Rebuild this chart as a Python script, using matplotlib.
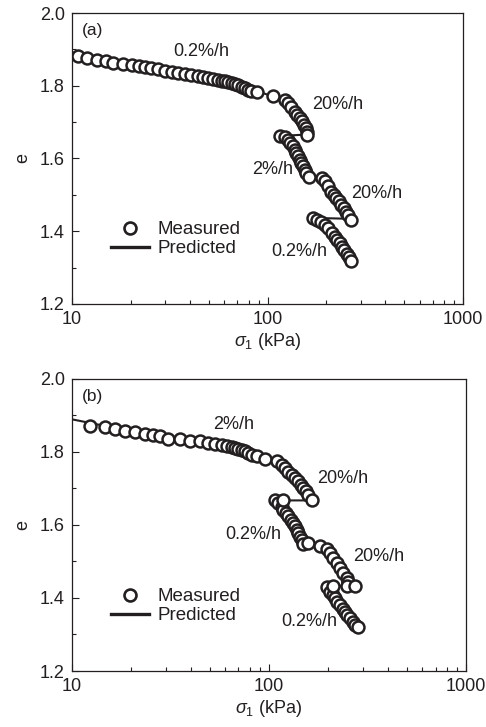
import matplotlib
matplotlib.use("Agg")
import matplotlib.pyplot as plt
from matplotlib.lines import Line2D

plt.rcParams["font.family"] = ["Liberation Sans", "DejaVu Sans"]
plt.rcParams["mathtext.fontset"] = "custom"
plt.rcParams["mathtext.rm"] = "Liberation Sans"
plt.rcParams["mathtext.it"] = "Liberation Sans:italic"

INK = "#231f20"

# ---- panel (a): measured, one list per loading stage
a_s1_x = [10.8, 12.0, 13.5, 14.9, 16.3, 18.3, 20.2, 21.9, 23.6, 25.5, 27.6, 29.8, 32.3,
          34.9, 37.7, 40.8, 44.1, 46.8, 49.8, 52.8, 56.0, 58.2, 60.6, 63.0, 65.5, 68.1,
          70.8, 73.6, 76.5, 79.6, 82.7, 87.9]
a_s1_e = [1.881, 1.876, 1.872, 1.868, 1.864, 1.860, 1.857, 1.854, 1.851, 1.848, 1.845,
          1.842, 1.839, 1.836, 1.833, 1.830, 1.827, 1.825, 1.822, 1.819, 1.816, 1.814,
          1.812, 1.810, 1.807, 1.804, 1.801, 1.797, 1.793, 1.789, 1.785, 1.784]
a_s2_x = [106.9, 122.7, 127.3, 132.4, 137.7, 142.0, 146.0, 150.2, 153.3, 156.4, 158.5, 159.8]
a_s2_e = [1.771, 1.761, 1.752, 1.743, 1.729, 1.720, 1.711, 1.702, 1.693, 1.683, 1.674, 1.665]
a_s3_x = [115.3, 122.7, 127.3, 129.9, 135.1, 137.7, 140.5, 143.3, 146.0, 148.9, 151.8,
          154.8, 157.9, 163.2]
a_s3_e = [1.661, 1.659, 1.651, 1.642, 1.633, 1.624, 1.615, 1.606, 1.596, 1.587, 1.578,
          1.569, 1.560, 1.550]
a_s4_x = [188.8, 196.5, 204.6, 211.4, 217.4, 224.8, 231.2, 237.8, 245.6, 252.6, 258.7, 266.0]
a_s4_e = [1.546, 1.537, 1.523, 1.509, 1.500, 1.491, 1.482, 1.472, 1.463, 1.454, 1.445, 1.431]
a_s5_x = [171.2, 178.1, 186.8, 196.5, 204.6, 213.0, 221.6, 227.8, 235.0, 241.6, 247.4,
          254.4, 260.6, 266.9]
a_s5_e = [1.436, 1.431, 1.424, 1.417, 1.408, 1.394, 1.385, 1.376, 1.367, 1.356, 1.347,
          1.338, 1.328, 1.317]

# panel (a): predicted
a_pred_x = [10, 15, 20, 30, 40, 50, 60, 70, 80, 90, 106, 122, 140, 160,
            116, 130, 150, 163, 188, 220, 266, 190, 200, 230, 267]
a_pred_e = [1.892, 1.872, 1.862, 1.848, 1.838, 1.829, 1.821, 1.811, 1.798, 1.784, 1.771,
            1.757, 1.724, 1.666, 1.662, 1.645, 1.598, 1.551, 1.546, 1.494, 1.434,
            1.436, 1.406, 1.368, 1.318]

# ---- panel (b)
b_s1_x = [12.3, 14.7, 16.5, 18.6, 20.9, 23.5, 25.9, 28.0, 30.8, 35.3, 39.7, 44.6, 49.2,
          53.2, 57.5, 61.0, 64.6, 67.2, 69.8, 72.6, 75.5, 78.5, 81.6, 86.5, 95.4]
b_s1_e = [1.870, 1.867, 1.863, 1.858, 1.854, 1.850, 1.846, 1.843, 1.836, 1.836, 1.831,
          1.829, 1.824, 1.822, 1.820, 1.817, 1.813, 1.811, 1.808, 1.806, 1.801, 1.797,
          1.792, 1.788, 1.780]
b_s2_x = [109.4, 115.9, 120.5, 125.3, 130.3, 135.5, 140.9, 145.3, 149.3, 154.0, 158.4, 164.7]
b_s2_e = [1.774, 1.765, 1.756, 1.746, 1.737, 1.728, 1.719, 1.710, 1.701, 1.692, 1.682, 1.667]
b_s3_x = [107.3, 111.5, 115.9, 118.2, 122.0, 125.3, 128.8, 131.8, 135.5, 138.2, 140.9,
          143.5, 146.5, 149.3, 117.5]
b_s3_e = [1.669, 1.660, 1.650, 1.641, 1.632, 1.623, 1.614, 1.605, 1.596, 1.586, 1.577,
          1.568, 1.559, 1.548, 1.668]
b_s4_x = [158.4, 181.5, 196.2, 204.0, 212.1, 220.5, 229.3, 238.4, 247.9, 252.7, 247.9, 273.3]
b_s4_e = [1.550, 1.542, 1.533, 1.522, 1.509, 1.495, 1.481, 1.467, 1.454, 1.444, 1.432, 1.432]
b_s5_x = [196.2, 204.0, 212.1, 216.3, 222.3, 229.3, 236.5, 243.1, 249.7, 257.7, 266.0,
          273.3, 284.1, 212.1]
b_s5_e = [1.431, 1.417, 1.408, 1.399, 1.390, 1.380, 1.371, 1.362, 1.353, 1.344, 1.335,
          1.327, 1.321, 1.433]

b_pred_x = [10, 15, 20, 30, 40, 50, 60, 70, 80, 95, 110, 130, 150, 165,
            120, 107, 125, 140, 150, 185, 220, 255, 273, 200, 230, 284]
b_pred_e = [1.889, 1.870, 1.858, 1.843, 1.834, 1.827, 1.820, 1.812, 1.801, 1.781, 1.773,
            1.737, 1.703, 1.667, 1.667, 1.669, 1.625, 1.588, 1.550, 1.543, 1.496,
            1.448, 1.433, 1.433, 1.380, 1.321]

panels = [
    dict(tag="(a)", stages=[(a_s1_x, a_s1_e), (a_s2_x, a_s2_e), (a_s3_x, a_s3_e),
                            (a_s4_x, a_s4_e), (a_s5_x, a_s5_e)],
         pred=(a_pred_x, a_pred_e),
         labels=[("0.2%/h", 46, 1.894), ("20%/h", 228, 1.748), ("2%/h", 106, 1.569),
                 ("20%/h", 360, 1.505), ("0.2%/h", 146, 1.344)],
         rect=[0.148, 0.582, 0.805, 0.400]),
    dict(tag="(b)", stages=[(b_s1_x, b_s1_e), (b_s2_x, b_s2_e), (b_s3_x, b_s3_e),
                            (b_s4_x, b_s4_e), (b_s5_x, b_s5_e)],
         pred=(b_pred_x, b_pred_e),
         labels=[("2%/h", 66, 1.876), ("20%/h", 236, 1.728), ("0.2%/h", 83, 1.573),
                 ("20%/h", 362, 1.513), ("0.2%/h", 160, 1.335)],
         rect=[0.148, 0.077, 0.811, 0.402]),
]

fig = plt.figure(figsize=(4.86, 7.27), dpi=100)

for p in panels:
    ax = fig.add_axes(p["rect"])
    ax.plot(p["pred"][0], p["pred"][1], color=INK, lw=1.5, zorder=2)
    for xs, es in p["stages"]:
        ax.plot(xs, es, "o", ms=8.6, mfc="white", mec=INK, mew=1.8, zorder=3)
    for txt, x, y in p["labels"]:
        ax.text(x, y, txt, fontsize=13, color=INK, ha="center", va="center", zorder=4)
    ax.text(0.025, 0.965, p["tag"], transform=ax.transAxes, fontsize=12.5, color=INK,
            ha="left", va="top")

    ax.set_xscale("log")
    ax.set_xlim(10, 1000)
    ax.set_ylim(1.2, 2.0)
    ax.set_yticks([1.2, 1.4, 1.6, 1.8, 2.0])
    ax.set_yticks([1.3, 1.5, 1.7, 1.9], minor=True)
    ax.set_xticks([10, 100, 1000])
    ax.set_xticklabels(["10", "100", "1000"])
    ax.tick_params(which="both", direction="in", color=INK, labelcolor=INK,
                   labelsize=13, top=False, right=False)
    ax.tick_params(which="major", length=5, width=0.8, pad=5)
    ax.tick_params(which="minor", length=3, width=0.8)
    for sp in ax.spines.values():
        sp.set_color(INK)
        sp.set_linewidth(0.9)
    ax.set_xlabel(r"$\sigma_1$ (kPa)", fontsize=13, color=INK, labelpad=2)
    ax.set_ylabel("e", fontsize=13, color=INK, labelpad=6)

    handles = [Line2D([], [], ls="none", marker="o", ms=8.6, mfc="white", mec=INK, mew=1.9),
               Line2D([], [], color=INK, lw=2.4)]
    ax.legend(handles, ["Measured", "Predicted"], loc="lower left",
              bbox_to_anchor=(0.08, 0.135), frameon=False, fontsize=13.5,
              handlelength=2.05, handletextpad=0.45, labelspacing=0.1,
              borderaxespad=0, labelcolor=INK)

fig.savefig("out.png", dpi=100)
